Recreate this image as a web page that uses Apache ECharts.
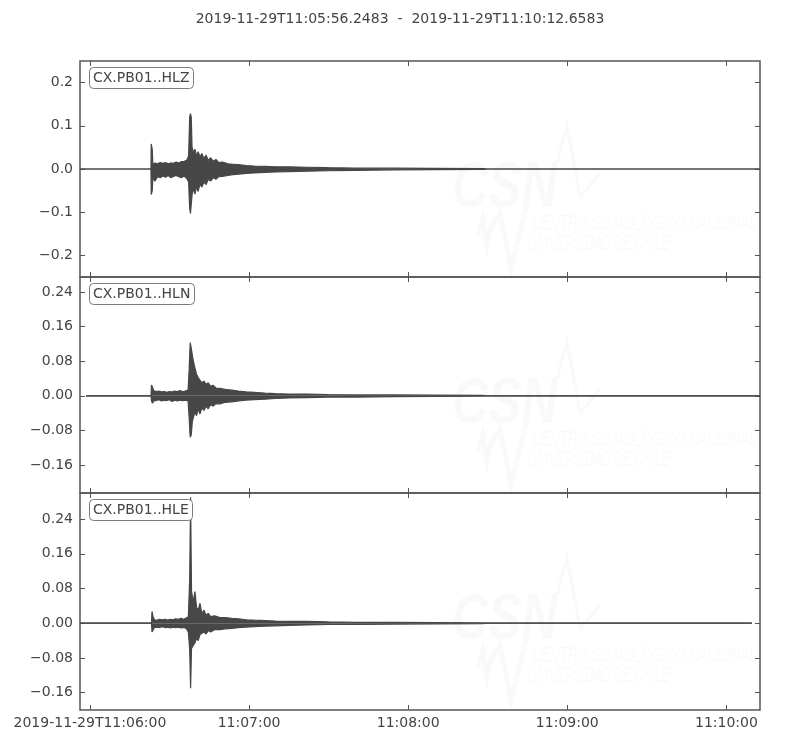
<!DOCTYPE html>
<html><head><meta charset="utf-8">
<script src="https://cdn.jsdelivr.net/npm/echarts@6/dist/echarts.min.js"></script>
<style>html,body{margin:0;padding:0;background:#fff}#c{width:800px;height:750px}</style>
</head><body><div id="c"></div>
<script>
// ---- data (time in seconds after 2019-11-29T11:06:00) ----
const titleText = '2019-11-29T11:05:56.2483  -  2019-11-29T11:10:12.6583';
const channelNames = ['CX.PB01..HLZ', 'CX.PB01..HLN', 'CX.PB01..HLE'];
const xMin = -3.7517, xMax = 252.6583;
const xTickSeconds = [0, 60, 120, 180, 240];
const xTickLabels = ['2019-11-29T11:06:00', '11:07:00', '11:08:00', '11:09:00', '11:10:00'];

const hlzRange = [-0.25, 0.25];
const hlnRange = [-0.225, 0.275];
const hleRange = [-0.2, 0.3];
const hlzTicks = [-0.2, -0.1, 0, 0.1, 0.2];
const hlnTicks = [-0.16, -0.08, 0, 0.08, 0.16, 0.24];
const hleTicks = [-0.16, -0.08, 0, 0.08, 0.16, 0.24];
const tickDecimals = [1, 2, 2];

// HLZ envelope (upper / lower)
const hlzT  = [-3.75, 23.0, 23.1, 23.5, 23.7, 24.5, 25.5, 26.5, 27.5, 28.5, 29.5, 30.5, 31.5, 32.5, 33.5, 34.5, 35.5, 36.5, 37.2, 37.6, 37.9, 38.2, 38.5, 39.0, 39.6, 40.2, 40.8, 41.5, 42.2, 43.0, 43.8, 44.6, 45.5, 46.5, 47.5, 48.5, 50, 52, 54, 56, 59, 62, 66, 70, 75, 82, 90, 100, 115, 130, 148, 150, 252.66];
const hlzUp = [0, 0, 0.058, 0.045, 0.012, 0.014, 0.012, 0.015, 0.013, 0.015, 0.012, 0.014, 0.013, 0.016, 0.014, 0.017, 0.018, 0.020, 0.030, 0.120, 0.128, 0.120, 0.050, 0.038, 0.046, 0.030, 0.040, 0.028, 0.036, 0.024, 0.032, 0.020, 0.026, 0.018, 0.022, 0.015, 0.016, 0.012, 0.011, 0.010, 0.008, 0.007, 0.006, 0.005, 0.005, 0.004, 0.003, 0.002, 0.002, 0.0015, 0.001, 0, 0];
const hlzLo = [0, 0, -0.059, -0.050, -0.020, -0.028, -0.018, -0.020, -0.016, -0.019, -0.015, -0.020, -0.017, -0.015, -0.018, -0.020, -0.016, -0.022, -0.030, -0.090, -0.103, -0.100, -0.060, -0.045, -0.058, -0.040, -0.052, -0.034, -0.042, -0.030, -0.036, -0.024, -0.028, -0.020, -0.024, -0.018, -0.017, -0.015, -0.013, -0.012, -0.010, -0.009, -0.008, -0.007, -0.006, -0.005, -0.004, -0.003, -0.002, -0.0015, -0.001, 0, 0];

// HLN envelope
const hlnT  = [-1.5, 23.0, 23.2, 23.6, 24.0, 25.0, 26.0, 27.0, 28.0, 29.0, 30.0, 31.0, 32.0, 33.0, 34.0, 35.0, 36.0, 37.0, 37.4, 37.8, 38.2, 38.6, 39.0, 39.6, 40.2, 40.8, 41.5, 42.2, 43.0, 43.8, 44.6, 45.5, 46.5, 47.5, 49, 51, 53.5, 56, 59, 62, 66, 70, 75, 82, 90, 100, 115, 130, 148, 150, 252.66];
const hlnUp = [0, 0, 0.025, 0.020, 0.012, 0.010, 0.011, 0.009, 0.010, 0.008, 0.010, 0.009, 0.011, 0.010, 0.012, 0.009, 0.011, 0.013, 0.060, 0.123, 0.110, 0.094, 0.080, 0.064, 0.050, 0.042, 0.038, 0.030, 0.034, 0.026, 0.030, 0.022, 0.024, 0.018, 0.017, 0.015, 0.013, 0.011, 0.009, 0.008, 0.006, 0.005, 0.004, 0.004, 0.003, 0.002, 0.002, 0.0015, 0.001, 0, 0];
const hlnLo = [0, 0, -0.012, -0.017, -0.012, -0.011, -0.009, -0.012, -0.010, -0.011, -0.009, -0.013, -0.010, -0.012, -0.010, -0.011, -0.010, -0.012, -0.050, -0.096, -0.090, -0.060, -0.050, -0.038, -0.046, -0.030, -0.042, -0.028, -0.034, -0.024, -0.030, -0.020, -0.024, -0.018, -0.019, -0.015, -0.014, -0.012, -0.010, -0.009, -0.008, -0.006, -0.005, -0.004, -0.003, -0.003, -0.002, -0.0015, -0.001, 0, 0];

// HLE envelope
const hleT  = [-3.75, 23.2, 23.4, 23.8, 24.3, 25.3, 26.3, 27.3, 28.3, 29.3, 30.3, 31.3, 32.3, 33.3, 34.3, 35.3, 36.3, 37.1, 37.6, 37.95, 38.3, 39.0, 39.6, 40.2, 40.8, 41.5, 42.2, 43.0, 43.8, 44.6, 45.5, 47, 49, 51, 53.5, 56, 59, 62, 66, 70, 75, 82, 90, 100, 115, 130, 148, 150, 249.6];
const hleUp = [0, 0, 0.027, 0.015, 0.008, 0.007, 0.009, 0.008, 0.009, 0.007, 0.009, 0.008, 0.010, 0.009, 0.011, 0.009, 0.012, 0.015, 0.100, 0.290, 0.073, 0.050, 0.073, 0.036, 0.030, 0.046, 0.022, 0.030, 0.018, 0.023, 0.015, 0.017, 0.013, 0.013, 0.011, 0.010, 0.008, 0.007, 0.006, 0.005, 0.004, 0.004, 0.003, 0.002, 0.002, 0.0015, 0.001, 0, 0];
const hleLo = [0, 0, -0.020, -0.019, -0.010, -0.009, -0.010, -0.008, -0.010, -0.009, -0.011, -0.009, -0.010, -0.009, -0.011, -0.010, -0.012, -0.020, -0.060, -0.150, -0.058, -0.060, -0.045, -0.035, -0.040, -0.026, -0.030, -0.020, -0.025, -0.017, -0.020, -0.015, -0.015, -0.013, -0.012, -0.010, -0.009, -0.008, -0.007, -0.006, -0.005, -0.004, -0.003, -0.003, -0.002, -0.0015, -0.001, 0, 0];

// ---- chart ----
const FONT = 'DejaVu Sans';
const FS = 14;
const TXT = '#444';
const FRAME = '#555';
const TRACE = '#474747';
const ranges = [hlzRange, hlnRange, hleRange];
const ticks = [hlzTicks, hlnTicks, hleTicks];
const traces = [[hlzT, hlzUp, hlzLo], [hlnT, hlnUp, hlnLo], [hleT, hleUp, hleLo]];
const gridTops = [61, 277, 493];
const gridHeights = [216, 216, 217];

const grids = [], xAxes = [], yAxes = [], series = [], titles = [], graphics = [];
titles.push({ text: titleText, left: 'center', top: 12, padding: 0,
  textStyle: { fontFamily: FONT, fontSize: FS, fontWeight: 'normal', color: TXT } });

function fmtY(dec) {
  return v => Number(v).toFixed(dec).replace('-', '\u2212');
}

for (let i = 0; i < 3; i++) {
  grids.push({ left: 80, width: 680, top: gridTops[i], height: gridHeights[i],
    show: true, borderColor: FRAME, borderWidth: 1.5, backgroundColor: 'transparent' });
  const tickStyle = { show: true, inside: true, length: 5, lineStyle: { color: FRAME, width: 1 } };
  const noLine = { show: false, onZero: false };
  // bottom x
  xAxes.push({ type: 'value', gridIndex: i, position: 'bottom', min: xMin, max: xMax,
    axisLine: noLine, splitLine: { show: false },
    axisTick: Object.assign({ customValues: xTickSeconds }, tickStyle),
    axisLabel: { show: i === 2, customValues: xTickSeconds, margin: 6,
      fontFamily: FONT, fontSize: FS, color: TXT,
      formatter: v => xTickLabels[xTickSeconds.indexOf(Math.round(v))] || '' } });
  // top x
  xAxes.push({ type: 'value', gridIndex: i, position: 'top', min: xMin, max: xMax,
    axisLine: noLine, splitLine: { show: false },
    axisTick: Object.assign({ customValues: xTickSeconds }, tickStyle),
    axisLabel: { show: false } });
  // left y
  yAxes.push({ type: 'value', gridIndex: i, position: 'left', min: ranges[i][0], max: ranges[i][1],
    axisLine: noLine, splitLine: { show: false },
    axisTick: Object.assign({ customValues: ticks[i] }, tickStyle),
    axisLabel: { show: true, customValues: ticks[i], margin: 7,
      fontFamily: FONT, fontSize: FS, color: TXT, formatter: fmtY(tickDecimals[i]) } });
  // right y
  yAxes.push({ type: 'value', gridIndex: i, position: 'right', min: ranges[i][0], max: ranges[i][1],
    axisLine: noLine, splitLine: { show: false },
    axisTick: Object.assign({ customValues: ticks[i] }, tickStyle),
    axisLabel: { show: false } });

  const [T, U, L] = traces[i];
  const mk = arr => T.map((t, k) => [t, arr[k]]);
  [U, L].forEach(arr => {
    series.push({ type: 'line', xAxisIndex: 2 * i, yAxisIndex: 2 * i, data: mk(arr),
      showSymbol: false, symbol: 'none', silent: true, z: 3,
      lineStyle: { color: TRACE, width: 1.2 },
      areaStyle: { color: TRACE, opacity: 1, origin: 0 } });
  });

  titles.push({ text: channelNames[i], left: 89, top: gridTops[i] + 6, padding: [4, 4, 4, 4],
    borderWidth: 1, borderColor: '#7a7a7a', borderRadius: 4, backgroundColor: '#fff',
    textStyle: { fontFamily: FONT, fontSize: FS, fontWeight: 'normal', color: TXT, lineHeight: 14 } });

  // faint CSN watermark
  const T0 = gridTops[i];
  const wm = 'rgba(0,0,0,0.022)';
  graphics.push({ type: 'group', x: 0, y: T0, z: 1, silent: true, children: [
    { type: 'text', x: 452, y: 96, scaleX: 0.78, style: { text: 'CSN', fill: wm,
      font: 'italic bold 64px "Liberation Sans"' } },
    { type: 'text', x: 532, y: 152, scaleX: 0.6, style: { text: 'CENTRO SISMOLÓGICO NACIONAL', fill: wm,
      font: 'italic 22px "Liberation Sans"' } },
    { type: 'text', x: 528, y: 172, scaleX: 0.55, style: { text: 'UNIVERSIDAD DE CHILE', fill: wm,
      font: 'italic 22px "Liberation Sans"' } },
    { type: 'polyline', shape: { points: [[478, 174], [483, 157], [487, 184], [490, 169], [500, 152], [511, 207], [526, 147]] },
      style: { stroke: wm, lineWidth: 5, fill: null } },
    { type: 'polyline', shape: { points: [[557, 102], [567, 64], [580, 136], [600, 112]] },
      style: { stroke: wm, lineWidth: 3, fill: null } }
  ] });
}

const chart = echarts.init(document.getElementById('c'), null, { renderer: 'canvas' });
chart.setOption({
  animation: false,
  backgroundColor: '#fff',
  title: titles,
  grid: grids,
  xAxis: xAxes,
  yAxis: yAxes,
  series: series,
  graphic: graphics
});
</script>
</body></html>
